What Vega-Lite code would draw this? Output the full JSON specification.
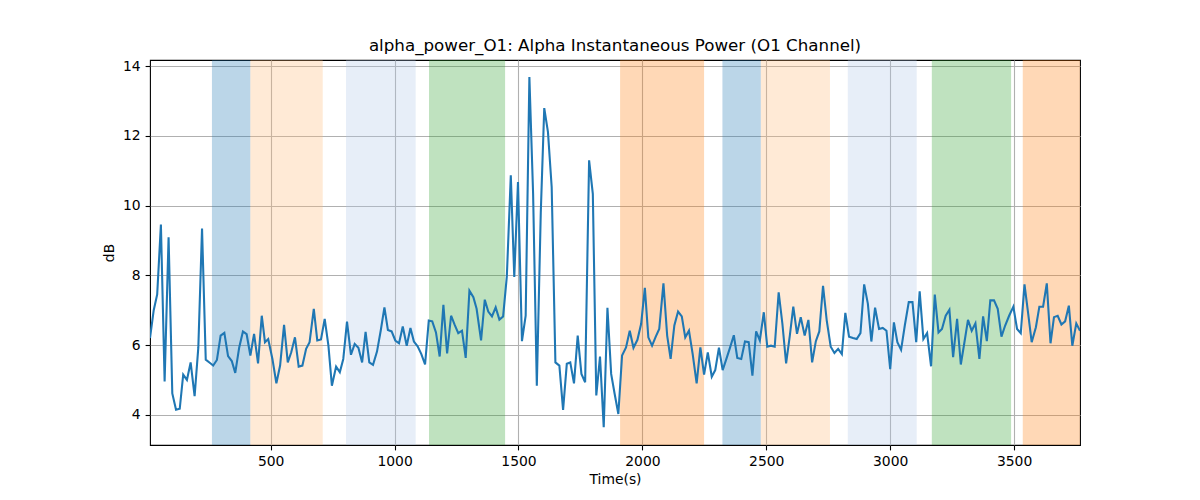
{
  "$schema": "https://vega.github.io/schema/vega-lite/v6.json",
  "description": "alpha_power_O1 over time with shaded phases",
  "width": 930,
  "height": 385,
  "autosize": {"type": "none"},
  "padding": {"left": 150, "top": 60, "right": 120, "bottom": 55},
  "background": "white",
  "title": {
    "text": "alpha_power_O1: Alpha Instantaneous Power (O1 Channel)",
    "font": "DejaVu Sans", "fontSize": 16.7, "fontWeight": "normal",
    "color": "black", "anchor": "middle", "offset": 5
  },
  "config": {
    "view": {"stroke": "black", "strokeWidth": 1.1},
    "axis": {
      "labelFont": "DejaVu Sans", "labelFontSize": 13.9, "labelColor": "black",
      "titleFont": "DejaVu Sans", "titleFontSize": 13.9, "titleFontWeight": "normal", "titleColor": "black",
      "domain": false, "tickColor": "black", "tickSize": 4.9, "tickWidth": 1.1, "labelPadding": 4.9,
      "grid": true, "gridColor": "#b0b0b0", "gridWidth": 1.1, "gridOpacity": 1,
      "labelFlush": false, "labelOverlap": false
    }
  },
  "datasets": {
    "bands": [
      {"start": 263, "end": 418, "segment": "A"},
      {"start": 418, "end": 710, "segment": "B"},
      {"start": 804, "end": 1085, "segment": "C"},
      {"start": 1139, "end": 1446, "segment": "D"},
      {"start": 1910, "end": 2249, "segment": "E"},
      {"start": 2323, "end": 2478, "segment": "A"},
      {"start": 2478, "end": 2757, "segment": "B"},
      {"start": 2829, "end": 3107, "segment": "C"},
      {"start": 3168, "end": 3488, "segment": "D"},
      {"start": 3535, "end": 3800, "segment": "E"}
    ],
    "series": [
      {"t": 13, "db": 6.2}, {"t": 28, "db": 7.0}, {"t": 42, "db": 7.45}, {"t": 57, "db": 9.46},
      {"t": 72, "db": 4.95}, {"t": 88, "db": 9.09}, {"t": 103, "db": 4.61}, {"t": 118, "db": 4.14},
      {"t": 133, "db": 4.17}, {"t": 147, "db": 5.15}, {"t": 162, "db": 5.0}, {"t": 177, "db": 5.5},
      {"t": 193, "db": 4.53}, {"t": 208, "db": 5.93}, {"t": 223, "db": 9.34}, {"t": 238, "db": 5.58},
      {"t": 254, "db": 5.49}, {"t": 268, "db": 5.41}, {"t": 283, "db": 5.57}, {"t": 298, "db": 6.27},
      {"t": 313, "db": 6.35}, {"t": 328, "db": 5.68}, {"t": 343, "db": 5.54}, {"t": 357, "db": 5.2},
      {"t": 373, "db": 5.93}, {"t": 388, "db": 6.39}, {"t": 403, "db": 6.31}, {"t": 418, "db": 5.7},
      {"t": 433, "db": 6.32}, {"t": 449, "db": 5.47}, {"t": 464, "db": 6.84}, {"t": 477, "db": 6.08},
      {"t": 490, "db": 6.17}, {"t": 507, "db": 5.6}, {"t": 523, "db": 4.9}, {"t": 538, "db": 5.41},
      {"t": 554, "db": 6.58}, {"t": 569, "db": 5.5}, {"t": 583, "db": 5.79}, {"t": 598, "db": 6.22},
      {"t": 613, "db": 5.38}, {"t": 628, "db": 5.41}, {"t": 643, "db": 5.89}, {"t": 657, "db": 6.08},
      {"t": 674, "db": 7.04}, {"t": 688, "db": 6.13}, {"t": 703, "db": 6.16}, {"t": 718, "db": 6.75},
      {"t": 733, "db": 5.98}, {"t": 747, "db": 4.83}, {"t": 764, "db": 5.38}, {"t": 779, "db": 5.22},
      {"t": 793, "db": 5.6}, {"t": 808, "db": 6.67}, {"t": 824, "db": 5.72}, {"t": 839, "db": 6.03},
      {"t": 854, "db": 5.92}, {"t": 869, "db": 5.5}, {"t": 883, "db": 6.38}, {"t": 898, "db": 5.5},
      {"t": 913, "db": 5.43}, {"t": 929, "db": 5.81}, {"t": 944, "db": 6.41}, {"t": 959, "db": 7.08},
      {"t": 973, "db": 6.43}, {"t": 988, "db": 6.39}, {"t": 1003, "db": 6.13}, {"t": 1018, "db": 6.05},
      {"t": 1033, "db": 6.53}, {"t": 1049, "db": 5.98}, {"t": 1064, "db": 6.49}, {"t": 1078, "db": 6.1},
      {"t": 1093, "db": 5.96}, {"t": 1108, "db": 5.74}, {"t": 1123, "db": 5.44}, {"t": 1138, "db": 6.7},
      {"t": 1152, "db": 6.68}, {"t": 1167, "db": 6.36}, {"t": 1182, "db": 5.67}, {"t": 1197, "db": 7.15},
      {"t": 1212, "db": 5.76}, {"t": 1228, "db": 6.84}, {"t": 1243, "db": 6.57}, {"t": 1257, "db": 6.34},
      {"t": 1272, "db": 6.41}, {"t": 1287, "db": 5.63}, {"t": 1302, "db": 7.56}, {"t": 1318, "db": 7.37},
      {"t": 1331, "db": 7.04}, {"t": 1349, "db": 6.13}, {"t": 1364, "db": 7.3}, {"t": 1378, "db": 6.96},
      {"t": 1393, "db": 6.82}, {"t": 1408, "db": 7.08}, {"t": 1423, "db": 6.73}, {"t": 1438, "db": 6.82},
      {"t": 1453, "db": 7.97}, {"t": 1469, "db": 10.87}, {"t": 1483, "db": 7.95}, {"t": 1498, "db": 10.68},
      {"t": 1514, "db": 6.11}, {"t": 1529, "db": 6.84}, {"t": 1544, "db": 13.69}, {"t": 1559, "db": 10.34},
      {"t": 1574, "db": 4.83}, {"t": 1590, "db": 9.81}, {"t": 1604, "db": 12.8}, {"t": 1619, "db": 12.11},
      {"t": 1634, "db": 10.53}, {"t": 1649, "db": 5.5}, {"t": 1665, "db": 5.41}, {"t": 1680, "db": 4.14},
      {"t": 1695, "db": 5.46}, {"t": 1709, "db": 5.5}, {"t": 1724, "db": 4.9}, {"t": 1739, "db": 6.27},
      {"t": 1754, "db": 5.17}, {"t": 1769, "db": 4.93}, {"t": 1785, "db": 11.3}, {"t": 1800, "db": 10.34},
      {"t": 1814, "db": 4.55}, {"t": 1829, "db": 5.67}, {"t": 1844, "db": 3.64}, {"t": 1859, "db": 7.07},
      {"t": 1874, "db": 5.17}, {"t": 1888, "db": 4.6}, {"t": 1903, "db": 4.02}, {"t": 1918, "db": 5.7},
      {"t": 1934, "db": 5.93}, {"t": 1949, "db": 6.41}, {"t": 1964, "db": 5.92}, {"t": 1980, "db": 6.15},
      {"t": 1995, "db": 6.61}, {"t": 2010, "db": 7.64}, {"t": 2024, "db": 6.22}, {"t": 2039, "db": 5.98},
      {"t": 2054, "db": 6.24}, {"t": 2068, "db": 6.46}, {"t": 2085, "db": 7.77}, {"t": 2100, "db": 6.27},
      {"t": 2114, "db": 5.6}, {"t": 2129, "db": 6.56}, {"t": 2144, "db": 6.96}, {"t": 2159, "db": 6.82},
      {"t": 2173, "db": 6.22}, {"t": 2188, "db": 6.41}, {"t": 2203, "db": 5.74}, {"t": 2219, "db": 4.9},
      {"t": 2234, "db": 5.93}, {"t": 2249, "db": 5.15}, {"t": 2264, "db": 5.79}, {"t": 2280, "db": 5.09},
      {"t": 2294, "db": 5.28}, {"t": 2309, "db": 5.92}, {"t": 2324, "db": 5.28}, {"t": 2339, "db": 5.6},
      {"t": 2354, "db": 5.93}, {"t": 2369, "db": 6.28}, {"t": 2383, "db": 5.63}, {"t": 2399, "db": 5.6},
      {"t": 2414, "db": 6.1}, {"t": 2429, "db": 6.08}, {"t": 2444, "db": 5.12}, {"t": 2459, "db": 6.39},
      {"t": 2474, "db": 6.13}, {"t": 2490, "db": 6.94}, {"t": 2504, "db": 5.95}, {"t": 2519, "db": 5.98},
      {"t": 2534, "db": 5.95}, {"t": 2550, "db": 7.51}, {"t": 2565, "db": 6.61}, {"t": 2580, "db": 5.47},
      {"t": 2595, "db": 6.27}, {"t": 2609, "db": 7.1}, {"t": 2624, "db": 6.32}, {"t": 2639, "db": 6.8},
      {"t": 2655, "db": 6.27}, {"t": 2670, "db": 6.72}, {"t": 2685, "db": 5.5}, {"t": 2700, "db": 6.11},
      {"t": 2714, "db": 6.39}, {"t": 2729, "db": 7.7}, {"t": 2744, "db": 6.7}, {"t": 2760, "db": 5.95},
      {"t": 2775, "db": 5.77}, {"t": 2790, "db": 5.89}, {"t": 2805, "db": 5.74}, {"t": 2819, "db": 6.92},
      {"t": 2834, "db": 6.24}, {"t": 2850, "db": 6.2}, {"t": 2865, "db": 6.17}, {"t": 2880, "db": 6.34},
      {"t": 2895, "db": 7.74}, {"t": 2910, "db": 7.18}, {"t": 2924, "db": 6.1}, {"t": 2939, "db": 7.07},
      {"t": 2955, "db": 6.46}, {"t": 2970, "db": 6.49}, {"t": 2985, "db": 6.41}, {"t": 3000, "db": 5.31},
      {"t": 3015, "db": 6.65}, {"t": 3029, "db": 6.08}, {"t": 3044, "db": 5.86}, {"t": 3059, "db": 6.56},
      {"t": 3075, "db": 7.23}, {"t": 3090, "db": 7.23}, {"t": 3105, "db": 6.08}, {"t": 3119, "db": 7.54},
      {"t": 3134, "db": 6.17}, {"t": 3149, "db": 6.34}, {"t": 3165, "db": 5.39}, {"t": 3180, "db": 7.45},
      {"t": 3195, "db": 6.36}, {"t": 3209, "db": 6.46}, {"t": 3224, "db": 6.84}, {"t": 3239, "db": 7.01},
      {"t": 3254, "db": 5.65}, {"t": 3270, "db": 6.75}, {"t": 3285, "db": 5.44}, {"t": 3299, "db": 6.05},
      {"t": 3314, "db": 6.72}, {"t": 3329, "db": 6.41}, {"t": 3344, "db": 6.62}, {"t": 3360, "db": 5.6},
      {"t": 3375, "db": 6.82}, {"t": 3390, "db": 6.11}, {"t": 3404, "db": 7.28}, {"t": 3419, "db": 7.28},
      {"t": 3434, "db": 7.04}, {"t": 3449, "db": 6.24}, {"t": 3464, "db": 6.56}, {"t": 3480, "db": 6.84},
      {"t": 3497, "db": 7.1}, {"t": 3512, "db": 6.46}, {"t": 3527, "db": 6.34}, {"t": 3542, "db": 7.74},
      {"t": 3557, "db": 6.89}, {"t": 3571, "db": 6.08}, {"t": 3588, "db": 6.51}, {"t": 3602, "db": 7.1},
      {"t": 3617, "db": 7.1}, {"t": 3632, "db": 7.77}, {"t": 3647, "db": 6.05}, {"t": 3661, "db": 6.8},
      {"t": 3676, "db": 6.84}, {"t": 3691, "db": 6.59}, {"t": 3706, "db": 6.68}, {"t": 3721, "db": 7.13},
      {"t": 3735, "db": 5.98}, {"t": 3751, "db": 6.62}, {"t": 3766, "db": 6.41}
    ]
  },
  "layer": [
    {
      "data": {"name": "bands"},
      "mark": {"type": "rect", "opacity": 0.3, "clip": true},
      "encoding": {
        "x": {"field": "start", "type": "quantitative", "scale": {"domain": [13, 3766], "nice": false, "zero": false}},
        "x2": {"field": "end"},
        "color": {
          "field": "segment", "type": "nominal", "legend": null,
          "scale": {"domain": ["A", "B", "C", "D", "E"], "range": ["#1f77b4", "#ffbb78", "#aec7e8", "#2ca02c", "#ff7f0e"]}
        }
      }
    },
    {
      "data": {"name": "series"},
      "mark": {"type": "line", "color": "#1f77b4", "strokeWidth": 2.08, "clip": true},
      "encoding": {
        "x": {
          "field": "t", "type": "quantitative", "title": "Time(s)",
          "scale": {"domain": [13, 3766], "nice": false, "zero": false},
          "axis": {"values": [500, 1000, 1500, 2000, 2500, 3000, 3500], "format": "d", "titlePadding": 4}
        },
        "y": {
          "field": "db", "type": "quantitative", "title": "dB",
          "scale": {"domain": [3.13, 14.18], "nice": false, "zero": false},
          "axis": {"values": [4, 6, 8, 10, 12, 14], "format": "d", "titlePadding": 6}
        }
      }
    }
  ]
}
